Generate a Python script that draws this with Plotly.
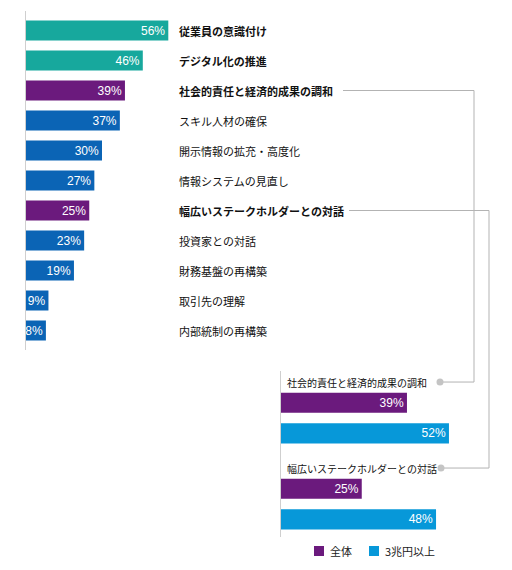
import plotly.graph_objects as go

# ── data ─────────────────────────────────────────────────────────────
items = ["従業員の意識付け", "デジタル化の推進", "社会的責任と経済的成果の調和",
         "スキル人材の確保", "開示情報の拡充・高度化", "情報システムの見直し",
         "幅広いステークホルダーとの対話", "投資家との対話", "財務基盤の再構築",
         "取引先の理解", "内部統制の再構築"]
values = [56, 46, 39, 37, 30, 27, 25, 23, 19, 9, 8]
kinds = ["top", "top", "focus", "base", "base", "base", "focus", "base", "base", "base", "base"]

focus_items = ["社会的責任と経済的成果の調和", "幅広いステークホルダーとの対話"]
all_values = [39, 25]
large_values = [52, 48]
series_names = ["全体", "3兆円以上"]

# ── style ────────────────────────────────────────────────────────────
W, H = 512, 570
OFF = 8  # page body margin
FONT = "Noto Sans CJK JP"
NUM_FONT = "Liberation Sans, Noto Sans CJK JP"
colors = {"top": "#17a89d", "focus": "#6b1a7d", "base": "#0b64b5"}
series_colors = ["#6b1a7d", "#0798d9"]
gray = "#b3b3b3"


def px_x(x):
    return (x - OFF) / W


def px_y(y):
    return 1 - (y - OFF) / H


# top chart geometry (pixels)
top_y0, row_h, top_pad = 11, 30, 0.65
x0_top, px_per_top = 25.5, 2.55
# bottom chart geometry
x0_bot, px_per_bot = 281, 3.23
bot_top, bot_bottom, grp_h = 371, 537, 86
bot_pad_top = 0.547
bot_pad_bottom = (bot_bottom - bot_top) / grp_h - bot_pad_top - 1

fig = go.Figure()

fig.add_trace(go.Bar(
    y=items, x=values, orientation="h",
    marker=dict(color=[colors[k] for k in kinds], line=dict(width=0)),
    text=[f"{v}%" for v in values], textposition="inside", insidetextanchor="end",
    constraintext="none", offsetgroup="a", width=2 / 3,
    textfont=dict(color="white", size=12, family=NUM_FONT),
    xaxis="x", yaxis="y", showlegend=False, hoverinfo="skip",
))

for name, vals, col in zip(series_names, [all_values, large_values], series_colors):
    fig.add_trace(go.Bar(
        y=focus_items, x=vals, orientation="h", name=name,
        marker=dict(color=col, line=dict(width=0)),
        text=[f"{v}%" for v in vals], textposition="inside", insidetextanchor="end",
        constraintext="none",
        textfont=dict(color="white", size=12, family=NUM_FONT),
        xaxis="x2", yaxis="y2", showlegend=False, hoverinfo="skip",
    ))

fig.update_layout(
    width=W, height=H,
    margin=dict(l=0, r=0, t=0, b=0),
    paper_bgcolor="white", plot_bgcolor="white",
    font=dict(family=FONT, size=11, color="#222"),
    barmode="group", bargap=0.29, bargroupgap=0.34,
    xaxis=dict(domain=[px_x(x0_top), px_x(W)], range=[0, (W - x0_top) / px_per_top],
               visible=False),
    yaxis=dict(domain=[px_y(top_y0 + (len(items) - 1 + 2 * top_pad) * row_h), px_y(top_y0)],
               range=[len(items) - 1 + top_pad, -top_pad],
               showline=True, linecolor="#cfcfcf", linewidth=1,
               showticklabels=False, ticks="", showgrid=False, zeroline=False),
    xaxis2=dict(domain=[px_x(x0_bot), px_x(W)], range=[0, (W - x0_bot) / px_per_bot],
                anchor="y2", visible=False),
    yaxis2=dict(domain=[px_y(bot_bottom), px_y(bot_top)],
                range=[1 + bot_pad_bottom, -bot_pad_top], anchor="x2",
                showline=True, linecolor="#cfcfcf", linewidth=1,
                showticklabels=False, ticks="", showgrid=False, zeroline=False),
    showlegend=False,
)

# item labels to the right of the top bars
for name, kind in zip(items, kinds):
    bold = kind in ("top", "focus")
    fig.add_annotation(x=px_x(177), xref="paper", y=name, yref="y",
                       text=f"<b>{name}</b>" if bold else name,
                       showarrow=False, xanchor="left", yanchor="middle",
                       font=dict(size=11, color="#111"))

# group labels above the bottom bars
for name in focus_items:
    fig.add_annotation(x=px_x(285), xref="paper", y=name, yref="y2", yshift=36,
                       text=name, showarrow=False, xanchor="left", yanchor="middle",
                       font=dict(size=10, color="#111"))

# connectors: top label -> bottom group label
line_start = [343, 349]
elbow_x = [474, 489]
dot_x = [440, 441]
for g, name in enumerate(focus_items):
    i = items.index(name)
    y_top = top_y0 + (i + top_pad) * row_h
    y_bot = bot_top + (g + bot_pad_top) * grp_h - 36
    pts = [(line_start[g], y_top), (elbow_x[g], y_top), (elbow_x[g], y_bot), (dot_x[g], y_bot)]
    path = "M " + " L ".join(f"{px_x(x)},{px_y(y)}" for x, y in pts)
    fig.add_shape(type="path", path=path, xref="paper", yref="paper",
                  line=dict(color=gray, width=1))
    r = 3.5
    fig.add_shape(type="circle", xref="paper", yref="paper",
                  x0=px_x(dot_x[g] - r), x1=px_x(dot_x[g] + r),
                  y0=px_y(y_bot + r), y1=px_y(y_bot - r),
                  fillcolor="#c4c4c4", line=dict(width=0))

# legend (square + label)
legend_x = [314, 369]
for name, col, lx in zip(series_names, series_colors, legend_x):
    fig.add_shape(type="rect", xref="paper", yref="paper",
                  x0=px_x(lx), x1=px_x(lx + 10), y0=px_y(556), y1=px_y(546),
                  fillcolor=col, line=dict(width=0))
    fig.add_annotation(x=px_x(lx + 14), xref="paper", y=px_y(551), yref="paper",
                       text=name, showarrow=False, xanchor="left", yanchor="middle",
                       font=dict(size=11, color="#222"))

fig.write_html("out.html")
